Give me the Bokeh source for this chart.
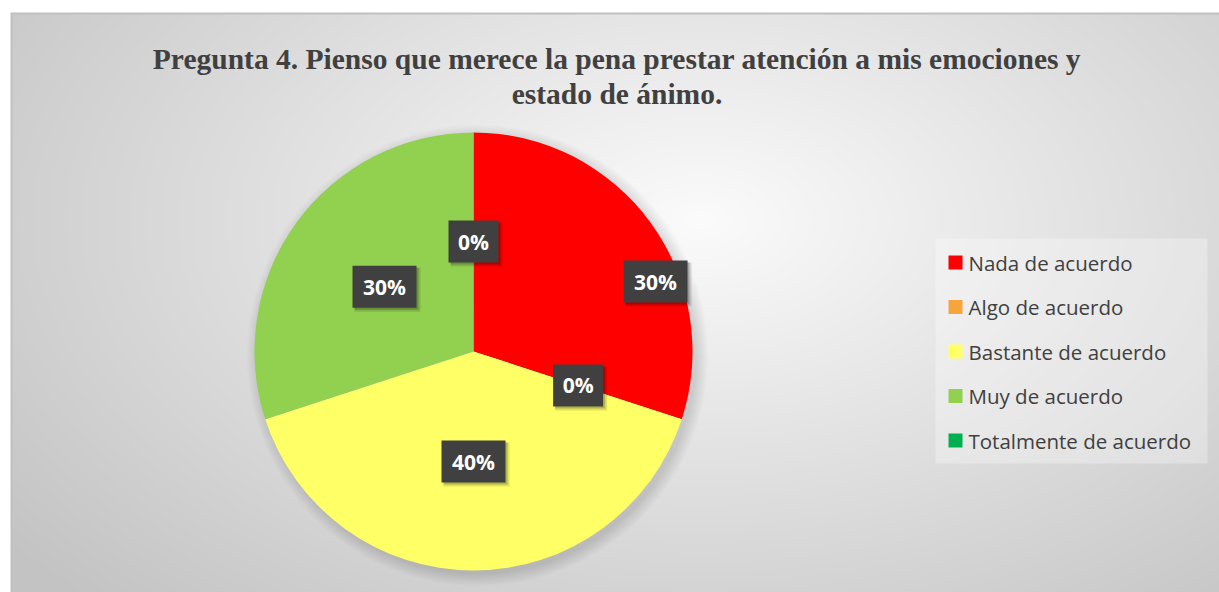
import numpy as np
from bokeh.plotting import figure
from bokeh.models import Range1d, ColumnDataSource
from bokeh.core.properties import value
from bokeh.embed import file_html
from bokeh.resources import INLINE

# ---------------- data ----------------
title_lines = ["Pregunta 4. Pienso que merece la pena prestar atención a mis emociones y",
               "estado de ánimo."]
categories = ["Nada de acuerdo", "Algo de acuerdo", "Bastante de acuerdo",
              "Muy de acuerdo", "Totalmente de acuerdo"]
percentages = [30, 0, 40, 30, 0]
colors = ["#FF0000", "#F7A43C", "#FFFF66", "#92D050", "#00B050"]

# ---------------- layout / style ----------------
W, H = 1219, 592
CX, CY, R = 473, 241, 219            # pie centre & radius (px units)
LABEL_R = [195, 110, 110, 110, 110]  # label distance from centre
LABEL_SHIFT = [-15, 0, 0, 0, 0]      # label angle adjustment (deg)

p = figure(width=W, height=H, output_backend="svg", toolbar_location=None,
           x_range=Range1d(0, W), y_range=Range1d(0, H), min_border=0,
           background_fill_color="white", border_fill_color="white")
p.axis.visible = False
p.grid.visible = False
p.outline_line_color = None

# ---- radial gradient background ----
iw, ih = 605, 290
xs = np.linspace(10, 1219, iw)
ys = np.linspace(592, 12, ih)          # row 0 = bottom
X, Y = np.meshgrid(xs, ys)
d = np.sqrt(((X - 700) / 700.0) ** 2 + ((Y - 220) / 420.0) ** 2)
v = np.clip(251 - 44 * d, 195, 255).astype(np.uint32)
v[-1, :] = 192
v[:, 0] = 192
img = (255 << 24) | (v << 16) | (v << 8) | v
p.image_rgba(image=[img.astype(np.uint32)], x=10, y=0, dw=W - 10, dh=H - 12)

# ---- title ----
p.text(x=[616.5, 616.5], y=[533.5, 499], text=title_lines,
       text_font=value("Liberation Serif"), text_font_style="bold",
       text_font_size="29.5px", text_color="#404040",
       text_align="center", text_baseline="alphabetic")

# ---- pie shadow ----
for k in range(10):
    p.circle(x=CX + 4, y=CY - 4, radius=R + k * 1.3, fill_color="black",
             fill_alpha=0.013, line_color=None)

# ---- pie ----
vals = np.array(percentages, dtype=float)
frac = vals / vals.sum()
cum = np.concatenate([[0], np.cumsum(frac)])
start = np.deg2rad(90 - cum[:-1] * 360)
end = np.deg2rad(90 - cum[1:] * 360)
mask = vals > 0
src = ColumnDataSource(dict(start=start[mask], end=end[mask],
                            color=[c for c, m in zip(colors, mask) if m]))
p.wedge(x=CX, y=CY, radius=R, start_angle="start", end_angle="end",
        direction="clock", fill_color="color", line_color=None, source=src)

# ---- data labels ----
mid = np.deg2rad(90 - (cum[:-1] + cum[1:]) / 2 * 360 + np.array(LABEL_SHIFT))
lx = CX + np.array(LABEL_R) * np.cos(mid)
ly = CY + np.array(LABEL_R) * np.sin(mid)
ltxt = [f"{int(v_)}%" for v_ in percentages]
lw = [22 + 14 * len(t) for t in ltxt]
p.rect(x=lx + 3, y=ly - 3, width=[w + 2 for w in lw], height=44, fill_color="black",
       fill_alpha=0.12, line_color=None)
p.rect(x=lx + 2, y=ly - 2, width=lw, height=42, fill_color="black",
       fill_alpha=0.2, line_color=None)
p.rect(x=lx, y=ly, width=lw, height=42, fill_color="#404040", line_color=None)
p.text(x=lx, y=ly, text=ltxt, text_font=value("Open Sans"), text_font_style="bold",
       text_font_size="21px", text_color="white", text_align="center",
       text_baseline="middle")

# ---- legend ----
p.quad(left=935, right=1207, bottom=129, top=354, fill_color="white",
       fill_alpha=0.3, line_color=None)
leg_y = [330 - i * 44.5 for i in range(len(categories))]
p.rect(x=[955] * len(categories), y=leg_y, width=14, height=14,
       fill_color=colors, line_color=None)
p.text(x=[968] * len(categories), y=leg_y, text=categories,
       text_font=value("Open Sans"), text_font_size="20.5px", text_color="#404040",
       text_align="left", text_baseline="middle")

open("out.html", "w").write(file_html(p, INLINE))
